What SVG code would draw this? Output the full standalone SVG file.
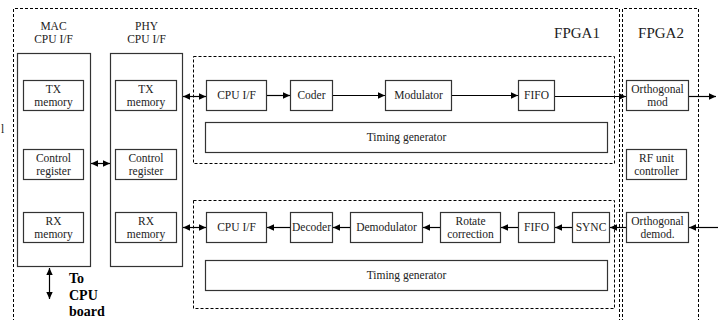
<svg xmlns="http://www.w3.org/2000/svg" width="725" height="320" viewBox="0 0 725 320" font-family="'Liberation Serif', 'Times New Roman', 'DejaVu Serif', serif">
<defs>
<marker id="ah" markerWidth="8" markerHeight="8" refX="7" refY="4" orient="auto" markerUnits="userSpaceOnUse">
<path d="M0,0.8 L7,4 L0,7.2 z" fill="#000"/>
</marker>
<marker id="as" markerWidth="8" markerHeight="8" refX="1" refY="4" orient="auto" markerUnits="userSpaceOnUse">
<path d="M8,0.8 L1,4 L8,7.2 z" fill="#000"/>
</marker>
</defs>
<style>
.box{fill:#fff;stroke:#333;stroke-width:1.2}
.dash{fill:none;stroke:#000;stroke-width:1;stroke-dasharray:3,2}
text{font-family:'Liberation Serif','Times New Roman','DejaVu Serif',serif}
.t{font-size:11.5px;fill:#222;text-anchor:middle}
.big{font-size:15px}
.b{font-weight:bold;font-size:14px;text-anchor:start;fill:#000}
.c{stroke:#000;stroke-width:1.2;fill:none}
.c1{marker-end:url(#ah)}
.c2{marker-start:url(#as);marker-end:url(#ah)}
</style>
<rect width="725" height="320" fill="#fff"/>
<g id="fpga1-frame">
<path class="dash" d="M13.5,322 V8.5 H619.5 V322"/>
<text class="t big" x="577" y="38">FPGA1</text>
</g>
<g id="fpga2-frame">
<path class="dash" d="M622.5,322 V8.5 H698.5 V322"/>
<text class="t big" x="661" y="38">FPGA2</text>
</g>
<text class="t" x="1" y="133" style="text-anchor:start">l</text>
<g id="tx-section">
<rect class="dash" x="193.5" y="56.5" width="421" height="107"/>
</g>
<g id="rx-section">
<rect class="dash" x="193.5" y="200.5" width="421" height="108"/>
</g>
<g id="mac">
<text class="t" x="53.5" y="30">MAC</text>
<text class="t" x="53.5" y="42.5">CPU I/F</text>
<rect class="box" x="17.5" y="53.5" width="73" height="213"/>
</g>
<g id="mac-tx"><rect class="box" x="23.5" y="80.5" width="60" height="30"/><text class="t" x="53.5" y="93">TX</text><text class="t" x="53.5" y="105.5">memory</text></g>
<g id="mac-ctrl"><rect class="box" x="23.5" y="149.5" width="60" height="30"/><text class="t" x="53.5" y="162">Control</text><text class="t" x="53.5" y="174.5">register</text></g>
<g id="mac-rx"><rect class="box" x="23.5" y="212.5" width="60" height="30"/><text class="t" x="53.5" y="225">RX</text><text class="t" x="53.5" y="237.5">memory</text></g>
<g id="phy">
<text class="t" x="146.5" y="30">PHY</text>
<text class="t" x="146.5" y="42.5">CPU I/F</text>
<rect class="box" x="110.5" y="53.5" width="72" height="213"/>
</g>
<g id="phy-tx"><rect class="box" x="115.5" y="80.5" width="61" height="30"/><text class="t" x="146" y="93">TX</text><text class="t" x="146" y="105.5">memory</text></g>
<g id="phy-ctrl"><rect class="box" x="115.5" y="149.5" width="61" height="30"/><text class="t" x="146" y="162">Control</text><text class="t" x="146" y="174.5">register</text></g>
<g id="phy-rx"><rect class="box" x="115.5" y="212.5" width="61" height="30"/><text class="t" x="146" y="225">RX</text><text class="t" x="146" y="237.5">memory</text></g>
<g id="cpu-board-label">
<text class="t b" x="69" y="283">To</text>
<text class="t b" x="69" y="300">CPU</text>
<text class="t b" x="69" y="316">board</text>
</g>
<g id="tx-cpuif"><rect class="box" x="206.5" y="80.5" width="60" height="30"/><text class="t" x="236.5" y="99">CPU I/F</text></g>
<g id="coder"><rect class="box" x="290.5" y="80.5" width="42" height="30"/><text class="t" x="311.5" y="99">Coder</text></g>
<g id="modulator"><rect class="box" x="385.5" y="80.5" width="66" height="30"/><text class="t" x="418.5" y="99">Modulator</text></g>
<g id="tx-fifo"><rect class="box" x="518.5" y="80.5" width="36" height="30"/><text class="t" x="536.5" y="99">FIFO</text></g>
<g id="tx-timing"><rect class="box" x="205.5" y="122.5" width="402" height="30"/><text class="t" x="406.5" y="141">Timing generator</text></g>
<g id="ortho-mod"><rect class="box" x="626.5" y="80.5" width="62" height="30"/><text class="t" x="657.5" y="93">Orthogonal</text><text class="t" x="657.5" y="105.5">mod</text></g>
<g id="rf-ctrl"><rect class="box" x="626.5" y="149.5" width="60" height="30"/><text class="t" x="656.5" y="162">RF unit</text><text class="t" x="656.5" y="174.5">controller</text></g>
<g id="ortho-demod"><rect class="box" x="626.5" y="212.5" width="62" height="30"/><text class="t" x="657.5" y="225">Orthogonal</text><text class="t" x="657.5" y="237.5">demod.</text></g>
<g id="rx-cpuif"><rect class="box" x="206.5" y="212.5" width="60" height="30"/><text class="t" x="236.5" y="231">CPU I/F</text></g>
<g id="decoder"><rect class="box" x="290.5" y="212.5" width="42" height="30"/><text class="t" x="311.5" y="231">Decoder</text></g>
<g id="demodulator"><rect class="box" x="350.5" y="212.5" width="72" height="30"/><text class="t" x="386.5" y="231">Demodulator</text></g>
<g id="rotate"><rect class="box" x="440.5" y="212.5" width="60" height="30"/><text class="t" x="470.5" y="225">Rotate</text><text class="t" x="470.5" y="237.5">correction</text></g>
<g id="rx-fifo"><rect class="box" x="518.5" y="212.5" width="36" height="30"/><text class="t" x="536.5" y="231">FIFO</text></g>
<g id="sync"><rect class="box" x="572.5" y="212.5" width="37" height="30"/><text class="t" x="591" y="231">SYNC</text></g>
<g id="rx-timing"><rect class="box" x="205.5" y="260.5" width="402" height="30"/><text class="t" x="406.5" y="279">Timing generator</text></g>
<g id="connectors">
<line class="c c2" x1="183" y1="96.5" x2="206" y2="96.5"/>
<line class="c c2" x1="91" y1="163.5" x2="110" y2="163.5"/>
<line class="c c2" x1="183" y1="227.5" x2="206" y2="227.5"/>
<line class="c c2" x1="49.5" y1="268" x2="49.5" y2="299"/>
<line class="c c1" x1="267" y1="95.5" x2="290" y2="95.5"/>
<line class="c c1" x1="333" y1="95.5" x2="385" y2="95.5"/>
<line class="c c1" x1="452" y1="95.5" x2="518" y2="95.5"/>
<line class="c c1" x1="555" y1="96.5" x2="626" y2="96.5"/>
<line class="c c1" x1="689" y1="96.5" x2="716" y2="96.5"/>
<line class="c c1" x1="718" y1="227.5" x2="689" y2="227.5"/>
<line class="c c1" x1="626" y1="227.5" x2="610" y2="227.5"/>
<line class="c c1" x1="572" y1="227.5" x2="555" y2="227.5"/>
<line class="c c1" x1="518" y1="227.5" x2="501" y2="227.5"/>
<line class="c c1" x1="440" y1="227.5" x2="423" y2="227.5"/>
<line class="c c1" x1="350" y1="227.5" x2="333" y2="227.5"/>
<line class="c c1" x1="290" y1="227.5" x2="267" y2="227.5"/>
</g>
</svg>
